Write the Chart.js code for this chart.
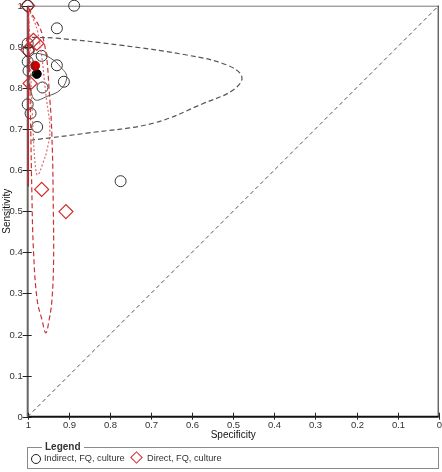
<!DOCTYPE html>
<html><head><meta charset="utf-8">
<script src="https://cdn.jsdelivr.net/npm/chart.js@4"></script>
<style>
html,body{margin:0;padding:0;background:#fff;}
#wrap{position:absolute;left:0;top:0;width:442px;height:445px;}
#legbox{position:absolute;left:27px;top:447px;width:410px;height:20px;border:1px solid #8a8a8a;font-family:"Liberation Sans",Arial,sans-serif;font-size:9.2px;color:#333;}
#legtitle{position:absolute;left:14px;top:-7px;background:#fff;padding:0 3px;font-weight:bold;font-size:10px;color:#333;}
.item{position:absolute;top:5px;line-height:11px;white-space:nowrap;}
.circ{position:absolute;top:6px;width:8px;height:8px;border:1px solid #222;border-radius:50%;}
.diam{position:absolute;top:5px;width:7px;height:7px;border:1.5px solid #d42a2a;transform:rotate(45deg);}
</style></head>
<body>
<div id="wrap"><canvas id="c" width="442" height="445"></canvas></div>
<div id="legbox"><span id="legtitle">Legend</span>
<span class="circ" style="left:3px"></span><span class="item" style="left:16px">Indirect, FQ, culture</span>
<span class="diam" style="left:104px"></span><span class="item" style="left:119px">Direct, FQ, culture</span>
</div>
<script>
// ---- data (specificity, sensitivity) ----
const indirectSpec = [1.0, 0.887, 0.929, 1.0, 0.998, 0.966, 1.0, 0.998, 0.929, 0.912, 0.964, 1.0, 0.993, 0.977, 0.774];
const indirectSens = [1.0, 1.0, 0.945, 0.908, 0.890, 0.878, 0.864, 0.842, 0.855, 0.815, 0.801, 0.760, 0.738, 0.705, 0.573];
const directSpec = [1.0, 0.986, 0.978, 1.0, 0.994, 0.966, 0.907];
const directSens = [1.0, 0.916, 0.908, 0.892, 0.811, 0.553, 0.499];
const summaryIndirect = [0.978, 0.834];
const summaryDirect = [0.982, 0.854];
// prediction / confidence regions
const indPredSpec = [0.99, 0.93, 0.775, 0.613, 0.516, 0.479, 0.50, 0.573, 0.695, 0.856, 0.99];
const indPredSens = [0.923, 0.921, 0.904, 0.880, 0.856, 0.827, 0.795, 0.762, 0.714, 0.690, 0.673];
const indConfSpec = [0.995, 0.982, 0.954, 0.921, 0.905, 0.921, 0.938, 0.965, 0.99, 1.0, 0.995];
const indConfSens = [0.80, 0.771, 0.779, 0.795, 0.827, 0.852, 0.868, 0.882, 0.88, 0.85, 0.80];
const dirPredSpec = [0.998, 0.963, 0.946, 0.940, 0.938, 0.937, 0.941, 0.948, 0.956, 0.965, 0.977, 0.986, 0.990, 0.993, 0.996, 0.998];
const dirPredSens = [0.995, 0.924, 0.770, 0.649, 0.527, 0.381, 0.284, 0.235, 0.204, 0.235, 0.284, 0.406, 0.551, 0.722, 0.868, 0.995];
const dirConfSpec = [0.998, 0.975, 0.954, 0.946, 0.953, 0.963, 0.976, 0.982, 0.987, 0.992, 0.996, 0.998];
const dirConfSens = [0.994, 0.933, 0.770, 0.698, 0.649, 0.617, 0.588, 0.617, 0.698, 0.819, 0.941, 0.994];
const srocDirSpec = [0.999, 0.999];
const srocDirSens = [1.0, 0.56];
const diagSpec = [1, 0];
const diagSens = [0, 1];
const tickValues = [0, 0.1, 0.2, 0.3, 0.4, 0.5, 0.6, 0.7, 0.8, 0.9, 1];
const tickLabels = ['0', '0.1', '0.2', '0.3', '0.4', '0.5', '0.6', '0.7', '0.8', '0.9', '1'];
const xTitle = 'Specificity';
const yTitle = 'Sensitivity';

const pts = (xs, ys) => xs.map((x, i) => ({x: x, y: ys[i]}));
const FONT = '9.5px "Liberation Sans", Arial, sans-serif';

const axisPlugin = {
  id: 'axisPlugin',
  beforeDatasetsDraw(chart) {
    const {ctx, chartArea: a, scales: {x, y}} = chart;
    ctx.save();
    ctx.strokeStyle = '#777'; ctx.lineWidth = 1;
    ctx.beginPath(); ctx.moveTo(a.left, a.top + 0.5); ctx.lineTo(a.right, a.top + 0.5); ctx.stroke();
    ctx.strokeStyle = '#222';
    ctx.beginPath(); ctx.moveTo(a.right - 0.5, a.top); ctx.lineTo(a.right - 0.5, a.bottom); ctx.stroke();
    ctx.strokeStyle = '#666'; ctx.lineWidth = 2;
    ctx.beginPath(); ctx.moveTo(a.left, a.top); ctx.lineTo(a.left, a.bottom); ctx.stroke();
    ctx.strokeStyle = '#111'; ctx.lineWidth = 2;
    ctx.beginPath(); ctx.moveTo(a.left, a.bottom); ctx.lineTo(a.right, a.bottom); ctx.stroke();
    ctx.lineWidth = 1; ctx.strokeStyle = '#222';
    ctx.font = FONT; ctx.fillStyle = '#333';
    tickValues.forEach((v, i) => {
      const py = Math.round(y.getPixelForValue(v)) + 0.5;
      ctx.beginPath(); ctx.moveTo(a.left - 5, py); ctx.lineTo(a.left + 4, py); ctx.stroke();
      ctx.textAlign = 'right'; ctx.textBaseline = 'middle';
      ctx.fillText(tickLabels[i], a.left - 5, py);
      const px = Math.round(x.getPixelForValue(v)) + 0.5;
      ctx.beginPath(); ctx.moveTo(px, a.bottom - 4); ctx.lineTo(px, a.bottom + 3); ctx.stroke();
      ctx.textAlign = 'center'; ctx.textBaseline = 'middle';
      ctx.fillText(tickLabels[i], px, a.bottom + 9);
    });
    ctx.fillStyle = '#111';
    ctx.font = '10px "Liberation Sans", Arial, sans-serif';
    ctx.textAlign = 'center'; ctx.textBaseline = 'middle';
    ctx.fillText(xTitle, (a.left + a.right) / 2, a.bottom + 19);
    ctx.translate(7, (a.top + a.bottom) / 2);
    ctx.rotate(-Math.PI / 2);
    ctx.fillText(yTitle, 0, 0);
    ctx.restore();
  }
};

const lineDs = (data, color, dash, width, tension) => ({
  type: 'scatter', data: data, showLine: true, borderColor: color, borderWidth: width,
  borderDash: dash, pointRadius: 0, tension: tension, fill: false, clip: 0
});

new Chart(document.getElementById('c'), {
  type: 'scatter',
  data: {
    datasets: [
      lineDs(pts(diagSpec, diagSens), '#555', [4, 3], 1, 0),
      lineDs(pts(indPredSpec, indPredSens), '#555', [5, 3], 1.2, 0.4),
      lineDs(pts(indConfSpec, indConfSens), '#555', [], 1, 0.4),
      lineDs(pts(dirPredSpec, dirPredSens), '#c8323a', [5, 3], 1.2, 0.4),
      lineDs(pts(dirConfSpec, dirConfSens), '#dd6a70', [2, 2], 1.2, 0.4),
      lineDs(pts(srocDirSpec, srocDirSens), '#cc1f1f', [], 1, 0),
      { label: 'Indirect, FQ, culture', data: pts(indirectSpec, indirectSens), pointStyle: 'circle',
        pointRadius: 5.5, borderColor: '#333', borderWidth: 1, backgroundColor: 'rgba(0,0,0,0)', clip: false },
      { label: 'Direct, FQ, culture', data: pts(directSpec, directSens), pointStyle: 'rectRot',
        pointRadius: 7, borderColor: '#d42a2a', borderWidth: 1.2, backgroundColor: 'rgba(0,0,0,0)', clip: false },
      { data: [{x: summaryDirect[0], y: summaryDirect[1]}], pointRadius: 4.5, backgroundColor: '#cc0000', borderColor: '#cc0000', clip: false },
      { data: [{x: summaryIndirect[0], y: summaryIndirect[1]}], pointRadius: 4.5, backgroundColor: '#000', borderColor: '#000', clip: false }
    ]
  },
  options: {
    responsive: false, animation: false, events: [],
    layout: { autoPadding: false, padding: { top: 5.7, right: 3.3, left: 27.7, bottom: 28.3 } },
    plugins: { legend: { display: false }, tooltip: { enabled: false } },
    scales: {
      x: { type: 'linear', reverse: true, min: 0, max: 1, display: false },
      y: { type: 'linear', min: 0, max: 1, display: false }
    }
  },
  plugins: [axisPlugin]
});
</script>
</body></html>
